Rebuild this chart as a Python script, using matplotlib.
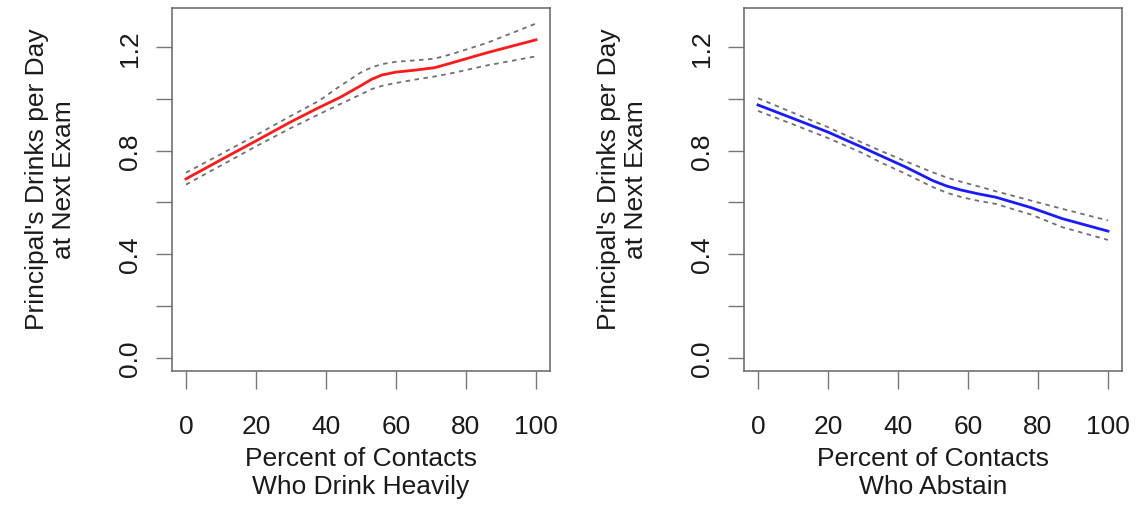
import matplotlib
matplotlib.use("Agg")
import matplotlib.pyplot as plt

plt.rcParams['font.family'] = ['Liberation Sans', 'DejaVu Sans']

# Left panel: percent of contacts who drink heavily
x_heavy = [0, 10, 20, 30, 38, 44, 50, 53, 56, 60, 65, 71, 76, 86, 100]
heavy_fit = [0.691, 0.765, 0.838, 0.912, 0.967, 1.006, 1.052, 1.076, 1.093, 1.104, 1.111, 1.121, 1.140, 1.179, 1.229]
heavy_upper = [0.715, 0.787, 0.860, 0.935, 0.993, 1.050, 1.103, 1.122, 1.135, 1.144, 1.149, 1.156, 1.174, 1.217, 1.292]
heavy_lower = [0.669, 0.743, 0.817, 0.888, 0.941, 0.980, 1.018, 1.038, 1.051, 1.062, 1.074, 1.087, 1.100, 1.130, 1.165]

# Right panel: percent of contacts who abstain
x_abst = [0, 10, 20, 30, 35, 42, 50, 54, 58, 63, 68, 78, 87, 100]
abst_fit = [0.977, 0.925, 0.872, 0.812, 0.781, 0.738, 0.684, 0.663, 0.648, 0.633, 0.620, 0.580, 0.537, 0.489]
abst_upper = [1.003, 0.947, 0.891, 0.830, 0.800, 0.760, 0.716, 0.696, 0.680, 0.662, 0.643, 0.607, 0.575, 0.530]
abst_lower = [0.954, 0.902, 0.849, 0.790, 0.755, 0.712, 0.659, 0.637, 0.621, 0.606, 0.594, 0.553, 0.504, 0.455]

x_ticks = [0, 20, 40, 60, 80, 100]
y_ticks = [0.0, 0.2, 0.4, 0.6, 0.8, 1.0, 1.2]
y_ticklabels = ["0.0", "", "0.4", "", "0.8", "", "1.2"]
y_label = "Principal's Drinks per Day\nat Next Exam"
x_labels = ["Percent of Contacts\nWho Drink Heavily", "Percent of Contacts\nWho Abstain"]

W, H = 1142, 506
fig = plt.figure(figsize=(W / 100, H / 100), dpi=100)

panels = [
    (172, x_heavy, heavy_fit, heavy_upper, heavy_lower, '#FF1A1A', x_labels[0]),
    (744, x_abst, abst_fit, abst_upper, abst_lower, '#1A1AFF', x_labels[1]),
]

FS = 19
TXT = '#1a1a1a'
for left_px, xs, fit, up, lo, col, xl in panels:
    ax = fig.add_axes([left_px / W, (H - 372) / H, 378 / W, 363 / H])
    ax.plot(xs, up, color='#707070', lw=1.3, ls=(0, (2.5, 2.5)))
    ax.plot(xs, lo, color='#707070', lw=1.3, ls=(0, (2.5, 2.5)))
    ax.plot(xs, fit, color=col, lw=2.0)
    ax.set_xlim(-4, 104)
    ax.set_ylim(-0.052, 1.352)
    ax.set_xticks(x_ticks)
    ax.set_xticklabels([str(t) for t in x_ticks])
    ax.set_yticks(y_ticks)
    ax.set_yticklabels(y_ticklabels, rotation=90, va='center')
    for s in ax.spines.values():
        s.set_color('#666666')
        s.set_linewidth(1.1)
    ax.tick_params(axis='x', length=13, width=1.0, color='#777777', pad=18,
                   labelsize=FS, labelcolor=TXT)
    ax.tick_params(axis='y', length=11.5, width=1.0, color='#777777', pad=10,
                   labelsize=FS, labelcolor=TXT)
    ax.set_xlabel(xl, fontsize=FS, color=TXT, linespacing=1.17, labelpad=6)
    ax.set_ylabel(y_label, fontsize=FS, color=TXT, linespacing=1.17,
                  labelpad=30, y=0.53)

fig.savefig("out.png", dpi=100)
